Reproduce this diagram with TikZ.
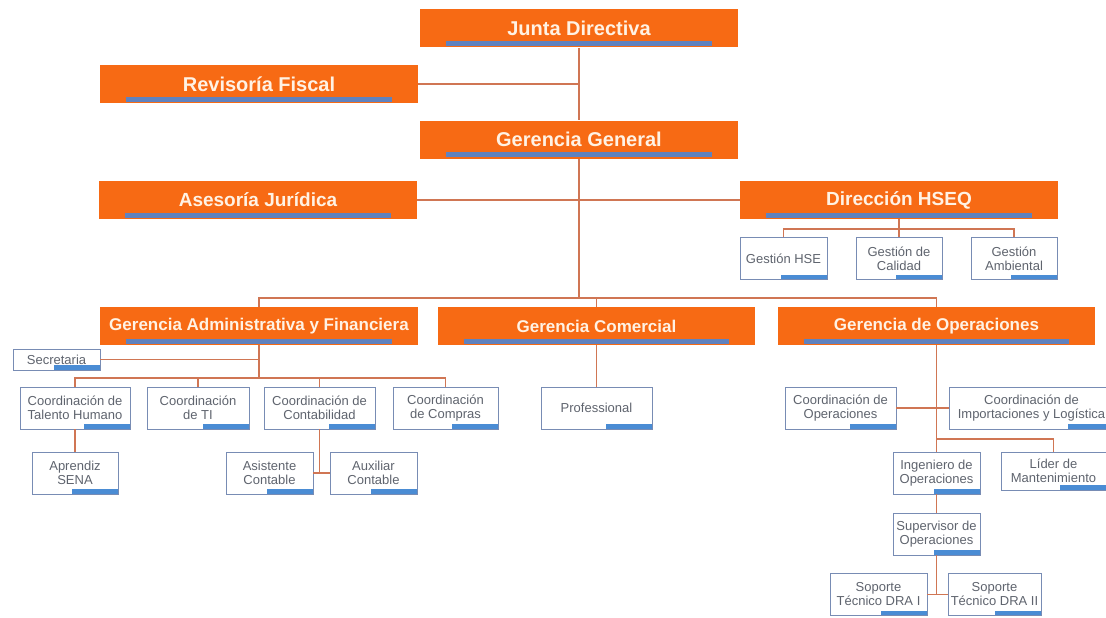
\documentclass[tikz,border=0pt]{standalone}
\usepackage{fontspec}
\setmainfont{Liberation Sans}
\usetikzlibrary{calc}
\definecolor{naranja}{RGB}{247,106,20}
\definecolor{barra}{RGB}{96,130,190}
\definecolor{barrita}{RGB}{74,140,212}
\definecolor{borde}{RGB}{120,140,180}
\definecolor{linea}{RGB}{208,118,84}
\definecolor{texto}{RGB}{95,100,110}
\definecolor{crema}{RGB}{255,242,228}

\begin{document}
\begin{tikzpicture}[x=1pt,y=-1pt,
  cargo/.style={fill=naranja,text=crema,minimum width=318pt,minimum height=38pt,inner sep=0,
    font=\fontsize{19}{22}\selectfont\bfseries,
    path picture={\fill[barra]([xshift=26pt,yshift=1.5pt]path picture bounding box.south west)
      rectangle ([xshift=-26pt,yshift=6.5pt]path picture bounding box.south east);}},
  puesto/.style={draw=borde,line width=0.8pt,fill=white,text=texto,align=center,inner sep=0,
    minimum height=42pt,font=\fontsize{13}{14}\selectfont,
    path picture={\fill[barrita]([xshift=-46pt]path picture bounding box.south east)
      rectangle ([yshift=5pt]path picture bounding box.south east);}},
  enlace/.style={draw=linea,line width=1.2pt}]
\useasboundingbox (0,0) rectangle (1106,618);

% direccion
\node[cargo,font=\fontsize{20}{22}\selectfont\bfseries] (junta) at (579,28.5) {Junta Directiva};
\node[cargo,font=\fontsize{20}{22}\selectfont\bfseries] (revisoria) at (259,84) {Revisoría Fiscal};
\node[cargo,font=\fontsize{20}{22}\selectfont\bfseries] (gerencia) at (579,139.5) {Gerencia General};
\node[cargo] (asesoria) at (258,200) {Asesoría Jurídica};
\node[cargo] (hseq) at (899,200) {Dirección HSEQ};
\node[cargo,font=\fontsize{17}{20}\selectfont\bfseries] (gadmin) at (259,326) {Gerencia Administrativa y Financiera};
\node[cargo,font=\fontsize{17}{20}\selectfont\bfseries,minimum width=317pt] (gcom) at (596.5,326) {Gerencia Comercial};
\node[cargo,font=\fontsize{17}{20}\selectfont\bfseries,minimum width=317pt] (gop) at (936.5,326) {Gerencia de Operaciones};

% HSEQ
\node[puesto,minimum width=87pt] (ghse) at (783.5,258.5) {Gestión HSE};
\node[puesto,minimum width=86pt] (gcal) at (899,258.5) {Gestión de\\Calidad};
\node[puesto,minimum width=86pt] (gamb) at (1014,258.5) {Gestión\\Ambiental};

% administrativa
\node[puesto,minimum width=87pt,minimum height=21pt] (secre) at (56.5,359.5) {Secretaria};
\node[puesto,minimum width=110pt] (talento) at (75,408) {Coordinación de\\Talento Humano};
\node[puesto,minimum width=102pt] (cti) at (198,408) {Coordinación\\de TI};
\node[puesto,minimum width=111pt] (ccont) at (319.5,408) {Coordinación de\\Contabilidad};
\node[puesto,minimum width=105pt] (ccomp) at (445.5,408) {Coordinación\\de Compras};
\node[puesto,minimum width=86pt] (aprendiz) at (75,473) {Aprendiz\\SENA};
\node[puesto,minimum width=87pt] (asist) at (269.5,473) {Asistente\\Contable};
\node[puesto,minimum width=87pt] (auxil) at (373.5,473) {Auxiliar\\Contable};

% comercial
\node[puesto,minimum width=111pt] (prof) at (596.5,408) {Professional};

% operaciones
\node[puesto,minimum width=111pt] (cops) at (840.5,408) {Coordinación de\\Operaciones};
\node[puesto,minimum width=165pt] (cimp) at (1031.5,408) {Coordinación de\\Importaciones y Logística};
\node[puesto,minimum width=87pt] (ing) at (936.5,473) {Ingeniero de\\Operaciones};
\node[puesto,minimum width=105pt,minimum height=38pt] (lider) at (1053.5,471) {Líder de\\Mantenimiento};
\node[puesto,minimum width=87pt] (sup) at (936.5,534) {Supervisor de\\Operaciones};
\node[puesto,minimum width=97pt] (dra1) at (878.5,594.5) {Soporte\\Técnico DRA I};
\node[puesto,minimum width=93pt] (dra2) at (994.5,594.5) {Soporte\\Técnico DRA II};

\coordinate (bus) at (579,298);
\coordinate (hseqbus) at (899,229);
\coordinate (admbus) at (259,378);
\coordinate (opsbr) at (936.5,439);

\draw[enlace] (junta) -- (gerencia);
\draw[enlace] (revisoria.east) -- (revisoria.east -| junta.south);
\draw[enlace] (gerencia.south) -- (bus);
\draw[enlace] (asesoria.east) -- (hseq.west);
\draw[enlace] (gadmin.north) |- (bus) -| (gop.north);
\draw[enlace] (gcom.north) -- (gcom.north |- bus);

\draw[enlace] (hseq.south) -- (hseqbus);
\draw[enlace] (ghse.north) |- (hseqbus) -| (gamb.north);
\draw[enlace] (gcal.north) -- (gcal.north |- hseqbus);

\draw[enlace] (gadmin.south) -- (admbus);
\draw[enlace] (secre.east) -- (secre.east -| admbus);
\draw[enlace] (talento.north) |- (admbus) -| (ccomp.north);
\draw[enlace] (cti.north) -- (cti.north |- admbus);
\draw[enlace] (ccont.north) -- (ccont.north |- admbus);
\draw[enlace] (talento) -- (aprendiz);
\draw[enlace] (ccont.south) -- (ccont.south |- asist.east);
\draw[enlace] (asist.east) -- (auxil.west);

\draw[enlace] (gcom) -- (prof);

\draw[enlace] (gop.south) -- (ing.north);
\draw[enlace] (cops.east) -- (cimp.west);
\draw[enlace] (opsbr) -| (lider.north);
\draw[enlace] (ing) -- (sup);
\draw[enlace] (sup.south) -- (sup.south |- dra1.east);
\draw[enlace] (dra1.east) -- (dra2.west);
\end{tikzpicture}
\end{document}
